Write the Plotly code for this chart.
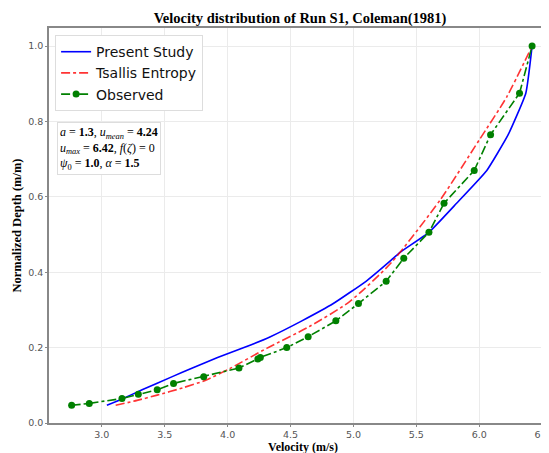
import plotly.graph_objects as go

# observed velocity profile (Run S1, Coleman 1981)
obs_u = [2.76, 2.90, 3.16, 3.29, 3.44, 3.57, 3.81, 4.09, 4.24, 4.26, 4.47,
         4.64, 4.86, 5.04, 5.26, 5.40, 5.60, 5.72, 5.96, 6.09, 6.32, 6.42]
obs_d = [0.047, 0.052, 0.065, 0.076, 0.088, 0.105, 0.123, 0.146, 0.170, 0.174, 0.200,
         0.229, 0.271, 0.317, 0.376, 0.437, 0.506, 0.583, 0.670, 0.765, 0.875, 1.0]

# present study model
ps_u = [3.04, 3.17, 3.32, 3.56, 3.72, 3.92, 4.13, 4.34, 4.59, 4.84, 5.10,
        5.30, 5.37, 5.60, 5.82, 6.06, 6.23, 6.37, 6.42]
ps_d = [0.047, 0.065, 0.088, 0.123, 0.146, 0.174, 0.200, 0.229, 0.271, 0.317, 0.376,
        0.432, 0.453, 0.506, 0.583, 0.670, 0.765, 0.875, 1.0]

# Tsallis entropy model
ts_u = [3.11, 3.28, 3.44, 3.64, 3.83, 4.02, 4.31, 4.65, 4.97, 5.30, 5.69, 6.00, 6.22, 6.42]
ts_d = [0.047, 0.060, 0.074, 0.093, 0.114, 0.145, 0.198, 0.256, 0.322, 0.425, 0.592, 0.751, 0.866, 1.0]

xticks = [3.0, 3.5, 4.0, 4.5, 5.0, 5.5, 6.0, 6.5]
yticks = [0.0, 0.2, 0.4, 0.6, 0.8, 1.0]

fig = go.Figure()

fig.add_trace(go.Scatter(x=ps_u, y=ps_d, mode="lines", name="Present Study",
                         line=dict(color="blue", width=1.6, shape="spline", smoothing=0.4)))
fig.add_trace(go.Scatter(x=ts_u, y=ts_d, mode="lines", name="Tsallis Entropy",
                         line=dict(color="rgba(255,0,0,0.8)", width=1.6, dash="dashdot",
                                   shape="spline", smoothing=0.6)))
fig.add_trace(go.Scatter(x=obs_u, y=obs_d, mode="lines+markers", name="Observed",
                         line=dict(color="green", width=1.6, dash="dashdot"),
                         marker=dict(color="green", size=7)))

serif = "Liberation Serif, Times New Roman, serif"
params = ("<i>a</i> = <b>1.3</b>, <i>u<sub>mean</sub></i> = <b>4.24</b><br>"
          "<i>u<sub>max</sub></i> = <b>6.42</b>, <i>f</i>(<i>ζ</i>) = 0<br>"
          "<i>ψ</i><sub>0</sub> = <b>1.0</b>, <i>α</i> = <b>1.5</b>")
fig.add_annotation(x=0.016, y=0.762, xref="paper", yref="paper", xanchor="left", yanchor="top",
                   text=params, showarrow=False, align="left",
                   font=dict(family=serif, size=12, color="black"),
                   bgcolor="white", bordercolor="#dddddd", borderwidth=1, borderpad=2)

axis_common = dict(showgrid=True, gridcolor="#ebebeb", gridwidth=1, zeroline=False,
                   showline=True, linecolor="#888888", linewidth=1.5, mirror=True,
                   ticks="outside", ticklen=2, tickcolor="#888888", automargin=False,
                   tickfont=dict(family="DejaVu Sans", size=9.5, color="#555555"))

# the page body adds an 8px offset, so margins are trimmed by that much
fig.update_layout(
    width=549, height=453,
    margin=dict(l=41, r=0, t=20, b=38),
    plot_bgcolor="white", paper_bgcolor="white",
    title=dict(text="<b>Velocity distribution of Run S1, Coleman(1981)</b>",
               x=0.532, xanchor="center", y=0.978, yanchor="middle",
               font=dict(family=serif, size=14.5, color="black")),
    xaxis=dict(range=[2.58, 6.618], tickvals=xticks, ticktext=[f"{t:.1f}" for t in xticks],
               title=dict(text="<b>Velocity (m/s)</b>", standoff=0,
                          font=dict(family=serif, size=12, color="black")),
               **axis_common),
    yaxis=dict(range=[0, 1.048], tickvals=yticks, ticktext=[f"{t:.1f}" for t in yticks],
               title=dict(text="<b>Normalized Depth (m/m)</b>", standoff=4,
                          font=dict(family=serif, size=12.5, color="black")),
               **axis_common),
    legend=dict(x=0.012, y=0.982, xanchor="left", yanchor="top",
                bgcolor="white", bordercolor="#dddddd", borderwidth=1,
                font=dict(family="DejaVu Sans", size=14, color="#111111"),
                tracegroupgap=0, itemwidth=30),
    showlegend=True,
)

fig.write_html("out.html")
